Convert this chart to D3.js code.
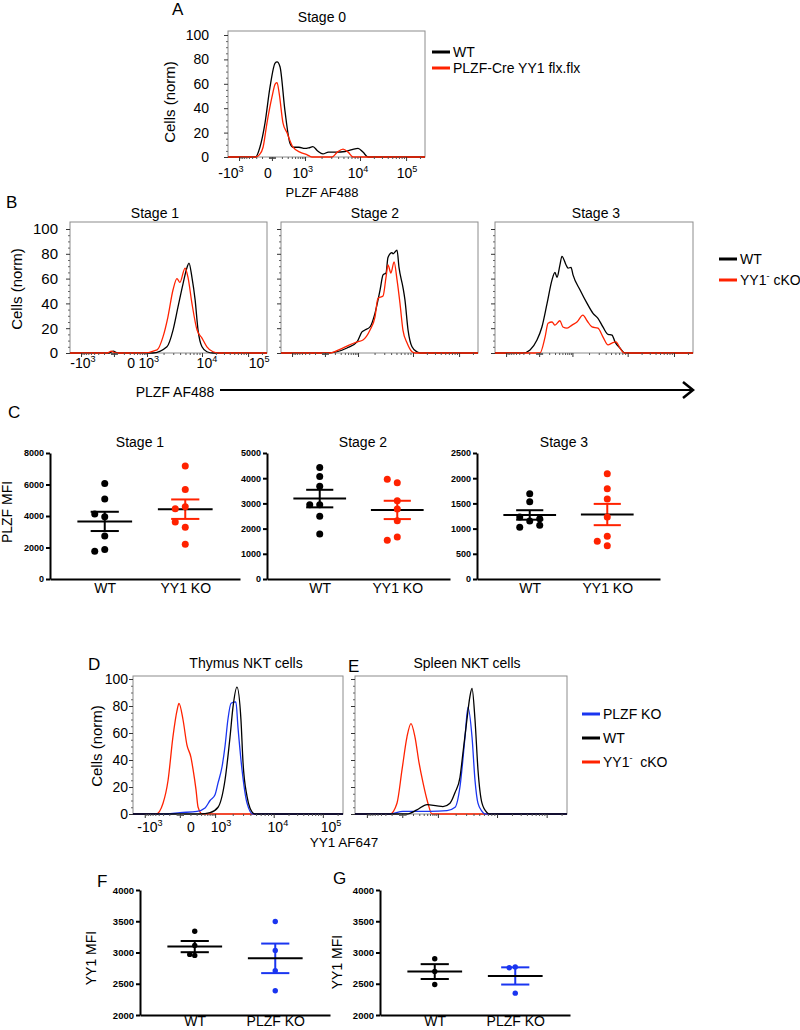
<!DOCTYPE html>
<html>
<head>
<meta charset="utf-8">
<script src="https://cdn.jsdelivr.net/npm/d3@7/dist/d3.min.js"></script>
<style>
  body { margin: 0; background: #fff; }
</style>
</head>
<body>
<svg id="fig" width="800" height="1030"></svg>
<script>
const FONT = '"Liberation Sans", Arial, Helvetica, sans-serif';
const RED = "#ff2200", BLUE = "#1a35f0", BLACK = "#000";

// histogram x values are percent of the axis width (display channel)
const xMajor = [5.6, 22.3, 39.1, 67, 90.4];
const xTickText = ["-10^3", "0", "10^3", "10^4", "10^5"];
const yHistTicks = [0, 20, 40, 60, 80, 100];

// A - stage 0
const stage0WT = [[0,0],[14,0],[16.2,8],[18.8,28],[21.3,57],[23.9,77],[24.9,78],[26.4,74],[28.9,38],[31.5,11],[33,8],[36,8],[39,7],[41,7.5],[43.1,8.5],[45.5,5],[48.2,2.5],[51,4],[55,4],[59.4,4.5],[63,6],[66,7],[68.5,4],[71.1,0],[100,0]];
const stage0KO = [[0,0],[14,0],[16,2],[17.8,8],[19.8,28],[22.3,49],[24,60],[24.9,61],[26,52],[27.9,28],[29.9,20],[33,8],[36.5,4],[40,2],[42.6,0],[52.8,0],[55.5,4],[58.4,6.5],[61,4],[63.5,0],[100,0]];

// B - stages 1-3
const stage1WT = [[0,0],[20,0],[22,1.5],[24,0],[42,0],[49.2,5],[52.3,18.5],[54.8,37],[57.4,56],[59.4,69],[60.4,72.5],[61.9,61],[63.5,43],[65,18.5],[67,5],[69.5,1],[72.6,0],[100,0]];
const stage1KO = [[0,0],[19,0],[21,1.5],[23,0],[37,0],[44.2,2.5],[47.2,13],[49.7,29],[52.3,51],[54.3,60],[55.8,57],[58.4,68.5],[59.9,61],[61.9,40],[64.5,18.5],[67,12],[69.5,5],[72.6,1],[76,0],[100,0]];
const stage2WT = [[0,0],[23.4,0],[33.5,4],[38.6,9],[41.1,17],[42.6,18.5],[45.2,21],[47.7,32],[50.3,51],[51.8,63],[53.3,64.5],[54.3,77],[56.3,81],[56.9,80],[58.9,83],[59.9,69],[61.9,53],[62.9,43],[64.5,18.5],[66.5,5],[69,1],[70.6,0],[100,0]];
const stage2KO = [[0,0],[24.9,0],[29.9,3],[34,6],[38.6,9],[41.6,10.5],[45.2,18.5],[47.7,29],[49.2,44],[51.8,46],[53.3,61],[54.3,71],[55.8,64.5],[57.4,73.5],[58.9,59],[60.4,40],[61.9,18.5],[64,8],[66.5,1],[68,0],[100,0]];
const stage3WT = [[0,0],[14.1,0],[17.7,2.5],[21.2,10.5],[23.7,21],[26.3,40],[28.8,59],[30.3,65],[31.3,61],[32.8,71],[33.8,78],[35.9,71],[36.9,68.5],[38.4,69],[39.4,63],[42.9,51],[46.5,40],[49.5,32],[52,28],[54.5,21],[57.1,15],[59.1,14.5],[60.6,9],[63.1,4],[65.7,0],[100,0]];
const stage3KO = [[0,0],[22.7,0],[25.3,13],[26.8,24],[28.8,25],[30.3,22.5],[32.8,26],[34.3,21],[36.4,20],[38.9,22.5],[41.4,25],[44.4,30.5],[46.5,26],[49,21],[52,20],[54.5,13],[57.1,6.5],[59.1,8],[61.1,9],[63.1,4],[65.2,0],[100,0]];

// D / E - YY1 staining
const thymusKO = [[0,0],[11,0],[14.3,8],[16.7,25],[19,57],[21,77],[21.9,82],[23.8,70],[25.7,51],[27.6,42],[28.6,33],[30,18],[31,5],[33,0],[100,0]];
const thymusPLZF = [[0,0],[16,0],[22.4,1],[30.5,2],[34.3,4.5],[36.7,10],[39,14],[40.5,23],[42.4,35],[43.8,50],[45.2,70],[46.7,82],[49,83],[50,64],[51.9,33],[54.3,8],[57.1,0],[100,0]];
const thymusWT = [[0,0],[32,0],[36.7,1],[40.5,5],[43.8,25],[46.2,57],[47.6,79],[49.5,94],[51.4,70],[52.4,38],[54.3,13],[55.7,4.5],[58.1,0],[100,0]];
const spleenKO = [[0,0],[16.5,0],[19.8,8],[22.2,33],[24.5,57],[26.4,67],[28.3,57],[30.2,38],[32.1,23],[34.4,8],[36.3,0],[100,0]];
const spleenPLZF = [[0,0],[16.5,0],[22.6,2],[35.4,2],[43.4,2.5],[47.2,5],[49.5,20],[51.9,57],[53.3,79],[55.2,57],[56.6,25],[58,8],[59.9,2],[61.3,0],[100,0]];
const spleenWT = [[0,0],[24.5,0],[29.2,3],[34,7],[38.7,6],[41.5,5.5],[44.8,8],[47.2,16],[49.5,27],[50.9,45],[52.8,70],[54.2,87],[55.2,93],[56.6,70],[58,33],[59.9,8],[62.3,1],[63.7,0],[100,0]];

// C - PLZF MFI per mouse
const groupsC = ["WT", "YY1 KO"];
const s1WT = [6063, 5073, 3958, 4126, 2737, 1873, 1768];
const s1KO = [7178, 5684, 4589, 4463, 3284, 3621, 2210];
const s2WT = [4421, 4066, 3684, 2947, 2947, 2487, 1790];
const s2KO = [3816, 3961, 3106, 2777, 2316, 1671, 1540];
const s3WT = [1693, 1534, 1151, 1230, 1197, 1025, 1065];
const s3KO = [2090, 1792, 1587, 1230, 847, 661, 747];

// F / G - YY1 MFI
const groupsFG = ["WT", "PLZF KO"];
const fWT = [3341, 3113, 2954, 2970];
const fKO = [3495, 3034, 2710, 2387];
const gWT = [2899, 2698, 2487];
const gKO = [2770, 2755, 2350];

const svg = d3.select("#fig").attr("font-family", FONT);

// text with ^superscript^ parts
function richText(sel, str, size) {
    const parts = str.split("^");
    const up = size * 0.42;
    parts.forEach((part, i) => {
        if (!part) return;
        const t = sel.append("tspan").text(part);
        if (i % 2 === 1) t.attr("dy", -up).attr("font-size", size * 0.65);
        else if (i > 0) t.attr("dy", up);
    });
    return sel;
}

function label(x, y, str, size, opts = {}) {
    const t = svg.append("text")
        .attr("x", x).attr("y", y)
        .attr("font-size", size)
        .attr("text-anchor", opts.anchor || "start")
        .attr("fill", "#000");
    if (opts.rotate) t.attr("transform", `rotate(-90,${x},${y})`);
    return richText(t, str, size);
}

function minorTicks() {
    const m = [];
    for (let k = 2; k <= 9; k++) {
        const lg = Math.log10(k);
        m.push(xMajor[1] - (xMajor[1] - xMajor[0]) * lg);
        m.push(xMajor[1] + (xMajor[2] - xMajor[1]) * lg);
        m.push(xMajor[2] + (xMajor[3] - xMajor[2]) * lg);
        m.push(xMajor[3] + (xMajor[4] - xMajor[3]) * lg);
        m.push(xMajor[4] + (xMajor[4] - xMajor[3]) * lg);
    }
    [-1.5, -1, -0.5, 0.5, 1, 1.5].forEach(d => m.push(xMajor[1] + d));
    return m.filter(v => v > 0 && v < 100);
}
const xMinor = minorTicks();

function histPanel(p) {
    const g = svg.append("g");
    const x = d3.scaleLinear().domain([0, 100]).range([p.left, p.right]);
    const y = d3.scaleLinear().domain([0, 100]).range([p.bottom, p.y100]);

    g.append("rect")
        .attr("x", p.left).attr("y", p.top)
        .attr("width", p.right - p.left).attr("height", p.bottom - p.top)
        .attr("fill", "none").attr("stroke", "#8c8c8c");

    const line = d3.line()
        .x(d => x(d[0]))
        .y(d => y(d[1]))
        .curve(d3.curveMonotoneX);

    p.series.forEach(s => {
        g.append("path")
            .datum(s.values)
            .attr("d", line)
            .attr("fill", "none")
            .attr("stroke", s.color)
            .attr("stroke-width", 1.3);
    });

    // y ticks
    const ya = g.append("g")
        .attr("transform", `translate(${p.left},0)`)
        .attr("color", "#333")
        .call(d3.axisLeft(y).tickValues(yHistTicks).tickSize(4)
            .tickPadding(p.yPad).tickFormat(p.yLabels ? d3.format("d") : ""));
    ya.select(".domain").remove();
    ya.attr("font-family", FONT).attr("font-size", p.yFont).selectAll("text").attr("fill", "#000");

    g.append("g")
        .attr("transform", `translate(${p.left},0)`)
        .attr("color", "#666")
        .call(d3.axisLeft(y).tickValues(d3.range(5, 100, 5).filter(v => v % 20)).tickSize(2).tickFormat(""))
        .select(".domain").remove();

    // x ticks
    g.append("g")
        .attr("transform", `translate(0,${p.bottom})`)
        .attr("color", "#333")
        .call(d3.axisBottom(x).tickValues(xMajor).tickSize(4).tickFormat(""))
        .select(".domain").remove();
    g.append("g")
        .attr("transform", `translate(0,${p.bottom})`)
        .attr("color", "#555")
        .call(d3.axisBottom(x).tickValues(xMinor).tickSize(2).tickFormat(""))
        .select(".domain").remove();

    if (p.xLabelAt) {
        p.xLabelAt.forEach((u, i) => label(x(u), p.xLabelY, xTickText[i], p.xFont, { anchor: "middle" }));
    }
    if (p.title) label(p.title[0], p.title[1], p.title[2], 14, { anchor: "middle" });
}

// simple beeswarm: spread points sideways when they would overlap
function swarm(values, y, step, r) {
    const placed = [];
    return values.map(v => {
        const py = y(v);
        for (const k of [0, -1, 1, -2, 2]) {
            const px = k * step;
            if (placed.every(q => Math.hypot(q.px - px, q.py - py) >= 2 * r - 0.5)) {
                placed.push({ px, py });
                return { v, dx: px };
            }
        }
        return { v, dx: 0 };
    });
}

function dotPanel(p) {
    const g = svg.append("g");
    const x = d3.scalePoint().domain(p.groups).range([p.left, p.right]).padding(0.68);
    const y = d3.scaleLinear().domain(p.domain).range([p.bottom, p.top]);

    const ya = g.append("g")
        .attr("transform", `translate(${p.left},0)`)
        .call(d3.axisLeft(y)
            .tickValues(d3.range(p.domain[0], p.domain[1] + 1, p.step))
            .tickFormat(d3.format("d"))
            .tickSize(4).tickSizeOuter(0).tickPadding(2));
    ya.attr("font-family", FONT).attr("font-size", p.tickFont);
    ya.selectAll("text").attr("font-weight", "bold");
    ya.selectAll("path, line").attr("stroke-width", 2);

    const xa = g.append("g")
        .attr("transform", `translate(0,${p.bottom})`)
        .call(d3.axisBottom(x).tickSize(0).tickSizeOuter(0).tickPadding(p.xPad));
    xa.attr("font-family", FONT).attr("font-size", 14);
    xa.select(".domain").attr("stroke-width", 2.2);

    const w = x.step();
    p.series.forEach((s, i) => {
        const cx = x(p.groups[i]);
        const n = s.values.length;
        const m = d3.mean(s.values);
        const se = d3.deviation(s.values) / Math.sqrt(n);

        g.append("line")
            .attr("x1", cx).attr("x2", cx)
            .attr("y1", y(m - se)).attr("y2", y(m + se))
            .attr("stroke", s.color).attr("stroke-width", 2);
        [m - se, m + se].forEach(v => {
            g.append("line")
                .attr("x1", cx - 0.175 * w).attr("x2", cx + 0.175 * w)
                .attr("y1", y(v)).attr("y2", y(v))
                .attr("stroke", s.color).attr("stroke-width", 2);
        });
        g.append("line")
            .attr("x1", cx - 0.34 * w).attr("x2", cx + 0.34 * w)
            .attr("y1", y(m)).attr("y2", y(m))
            .attr("stroke", BLACK).attr("stroke-width", 2);

        g.append("g")
            .selectAll("circle")
            .data(swarm(s.values, y, p.jitter, p.r))
            .join("circle")
            .attr("cx", d => cx + d.dx)
            .attr("cy", d => y(d.v))
            .attr("r", p.r)
            .attr("fill", s.color);
    });

    if (p.title) label(p.title[0], p.title[1], p.title[2], 14, { anchor: "middle" });
}

function legend(x0, y0, gap, items) {
    items.forEach((it, i) => {
        const yy = y0 + i * gap;
        svg.append("line")
            .attr("x1", x0).attr("x2", x0 + 18)
            .attr("y1", yy).attr("y2", yy)
            .attr("stroke", it.color).attr("stroke-width", 3);
        label(x0 + 21, yy + 5, it.text, 14);
    });
}

// ---------- A ----------
label(172, 15, "A", 17);
histPanel({
    left: 228, right: 425, top: 31, bottom: 157, y100: 35,
    series: [{ values: stage0WT, color: BLACK }, { values: stage0KO, color: RED }],
    yLabels: true, yPad: 15, yFont: 14,
    xLabelAt: [1.5, 20.3, 38, 66, 90.9], xLabelY: 178, xFont: 14,
    title: [322, 22, "Stage 0"]
});
label(175, 102, "Cells (norm)", 15, { anchor: "middle", rotate: true });
label(322, 197, "PLZF AF488", 13, { anchor: "middle" });
legend(432, 52, 16, [
    { text: "WT", color: BLACK },
    { text: "PLZF-Cre YY1 flx.flx", color: RED }
]);

// ---------- B ----------
label(6, 208, "B", 17);
histPanel({
    left: 70, right: 267, top: 222, bottom: 353, y100: 229,
    series: [{ values: stage1WT, color: BLACK }, { values: stage1KO, color: RED }],
    yLabels: true, yPad: 8, yFont: 15,
    xLabelAt: [6.6, 31, 40, 69.5, 96], xLabelY: 368, xFont: 14,
    title: [155, 218, "Stage 1"]
});
histPanel({
    left: 281, right: 478, top: 222, bottom: 353, y100: 229,
    series: [{ values: stage2WT, color: BLACK }, { values: stage2KO, color: RED }],
    yLabels: false, yPad: 2, yFont: 14,
    title: [375, 218, "Stage 2"]
});
histPanel({
    left: 495, right: 693, top: 222, bottom: 353, y100: 229,
    series: [{ values: stage3WT, color: BLACK }, { values: stage3KO, color: RED }],
    yLabels: false, yPad: 2, yFont: 14,
    title: [596, 218, "Stage 3"]
});
label(22, 289, "Cells (norm)", 15, { anchor: "middle", rotate: true });
label(175, 397, "PLZF AF488", 14, { anchor: "middle" });
svg.append("line")
    .attr("x1", 220).attr("x2", 692).attr("y1", 390).attr("y2", 390)
    .attr("stroke", BLACK).attr("stroke-width", 1.8);
svg.append("path")
    .attr("d", "M683,382 L693,390 L683,398")
    .attr("fill", "none").attr("stroke", BLACK).attr("stroke-width", 2.5);
legend(719, 259, 21, [
    { text: "WT", color: BLACK },
    { text: "YY1^-^ cKO", color: RED }
]);

// ---------- C ----------
label(8, 418, "C", 17);
dotPanel({
    left: 50, right: 240, top: 453, bottom: 579, domain: [0, 8000], step: 2000,
    groups: groupsC, series: [{ values: s1WT, color: BLACK }, { values: s1KO, color: RED }],
    r: 3.5, jitter: 10, tickFont: 9, xPad: 4, title: [140, 447, "Stage 1"]
});
dotPanel({
    left: 267, right: 450, top: 453, bottom: 579, domain: [0, 5000], step: 1000,
    groups: groupsC, series: [{ values: s2WT, color: BLACK }, { values: s2KO, color: RED }],
    r: 3.5, jitter: 10, tickFont: 9, xPad: 4, title: [363, 447, "Stage 2"]
});
dotPanel({
    left: 477, right: 660, top: 453, bottom: 579, domain: [0, 2500], step: 500,
    groups: groupsC, series: [{ values: s3WT, color: BLACK }, { values: s3KO, color: RED }],
    r: 3.5, jitter: 10, tickFont: 9, xPad: 4, title: [564, 447, "Stage 3"]
});
label(12, 512, "PLZF MFI", 14, { anchor: "middle", rotate: true });

// ---------- D / E ----------
label(88, 670, "D", 17);
label(348, 672, "E", 17);
histPanel({
    left: 133, right: 343, top: 676, bottom: 814, y100: 679,
    series: [{ values: thymusKO, color: RED }, { values: thymusPLZF, color: BLUE }, { values: thymusWT, color: BLACK }],
    yLabels: true, yPad: 1, yFont: 14,
    xLabelAt: [8.1, 27.6, 41.9, 69, 94.3], xLabelY: 832, xFont: 14,
    title: [246, 668, "Thymus NKT cells"]
});
histPanel({
    left: 355, right: 567, top: 676, bottom: 814, y100: 679,
    series: [{ values: spleenKO, color: RED }, { values: spleenPLZF, color: BLUE }, { values: spleenWT, color: BLACK }],
    yLabels: false, yPad: 2, yFont: 14,
    title: [467, 668, "Spleen NKT cells"]
});
label(102, 746, "Cells (norm)", 15, { anchor: "middle", rotate: true });
label(344, 847, "YY1 AF647", 13.5, { anchor: "middle" });
legend(582, 714, 24, [
    { text: "PLZF KO", color: BLUE },
    { text: "WT", color: BLACK },
    { text: "YY1^-^\u00a0 cKO", color: RED }
]);

// ---------- F / G ----------
label(97, 887, "F", 17);
label(333, 884, "G", 17);
dotPanel({
    left: 140, right: 330, top: 890, bottom: 1015, domain: [2000, 4000], step: 500,
    groups: groupsFG, series: [{ values: fWT, color: BLACK }, { values: fKO, color: BLUE }],
    r: 2.7, jitter: 5, tickFont: 9.5, xPad: 1
});
dotPanel({
    left: 380, right: 570, top: 890, bottom: 1015, domain: [2000, 4000], step: 500,
    groups: groupsFG, series: [{ values: gWT, color: BLACK }, { values: gKO, color: BLUE }],
    r: 2.7, jitter: 6, tickFont: 9.5, xPad: 1
});
label(96, 958, "YY1 MFI", 14, { anchor: "middle", rotate: true });
label(342, 962, "YY1 MFI", 14, { anchor: "middle", rotate: true });
</script>
</body>
</html>
